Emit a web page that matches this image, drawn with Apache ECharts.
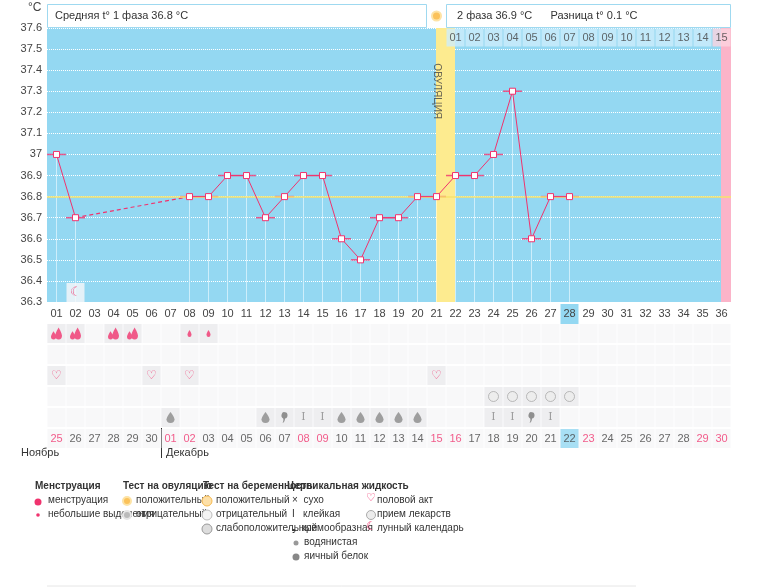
<!DOCTYPE html>
<html>
<head>
<meta charset="utf-8">
<script src="https://cdn.jsdelivr.net/npm/echarts@6/dist/echarts.min.js"></script>
<style>html,body{margin:0;padding:0;background:#fff}#c{width:769px;height:587px}</style>
</head>
<body>
<div id="c"></div>
<script>
// cycle days 01..36
const days = [];
for (let i = 1; i <= 36; i++) days.push(String(i).padStart(2, '0'));
// basal temperature, null = not measured
const temps = [37.0, 36.7, null, null, null, null, null, 36.8, 36.8, 36.9,
  36.9, 36.7, 36.8, 36.9, 36.9, 36.6, 36.5, 36.7, 36.7, 36.8,
  36.8, 36.9, 36.9, 37.0, 37.3, 36.6, 36.8, 36.8, null, null,
  null, null, null, null, null, null];
const calendarDates = ['25','26','27','28','29','30','01','02','03','04','05','06','07','08','09','10','11','12',
  '13','14','15','16','17','18','19','20','21','22','23','24','25','26','27','28','29','30'];
const redDates = [1, 7, 8, 14, 15, 21, 22, 28, 29, 35, 36];
const phase2Labels = ['01','02','03','04','05','06','07','08','09','10','11','12','13','14','15'];
const ovulationDay = 21;
const todayDay = 28;
const phase1Avg = 36.8;
const heavyDays = [1, 2, 4, 5];
const lightDays = [8, 9];
const sexDays = [1, 6, 8, 21];
const pillDays = [24, 25, 26, 27, 28];
const fluidDays = [7, 12, 13, 14, 15, 16, 17, 18, 19, 20, 24, 25, 26, 27];
const fluidTypes = ['egg','egg','cream','sticky','sticky','egg','egg','egg','egg','egg','sticky','sticky','cream','sticky'];
const moonDay = 2;
const rows = ['mens', 'empty', 'sex', 'pill', 'fluid', 'date'];

const FONT = 'Liberation Sans';
const PINK = '#f0336e';
const DROP = 'path://M5 0C5 0 0 7 0 10a5 5 0 0 0 10 0C10 7 5 0 5 0z';
const DROP2 = 'path://M9 0C9 0 5 6 5 9a4 4 0 0 0 8 0C13 6 9 0 9 0zM3 4C3 4 0 8 0 10a3 3 0 0 0 6 0C6 8 3 4 3 4z';
const COMMA = 'path://M4 0a4 4 0 1 1 0 8c0 3-2 5-4 6c1-2 2-4 1-6a4 4 0 0 1 3-8z';

const d = n => days[n - 1];

// dashed segment over the missing measurements
const gapLine = temps.map((t, i) => (i === 1 || i === 7) ? t : null);

const bgCells = [];
days.forEach(x => rows.forEach(r => bgCells.push([x, r])));
const usedCells = [];
heavyDays.concat(lightDays).forEach(n => usedCells.push([d(n), 'mens']));
sexDays.forEach(n => usedCells.push([d(n), 'sex']));
pillDays.forEach(n => usedCells.push([d(n), 'pill']));
fluidDays.forEach(n => usedCells.push([d(n), 'fluid']));

const chart = echarts.init(document.getElementById('c'));

const legendText = (x, y, t, bold) => ({
  type: 'text', x: x, y: y,
  style: { text: t, fill: '#333', font: (bold ? 'bold ' : '') + '10px ' + FONT }
});

chart.setOption({
  animation: false,
  textStyle: { fontFamily: FONT },
  grid: [
    { left: 47, right: 38, top: 28, height: 274, show: true, backgroundColor: '#94d8f2', borderWidth: 0 },
    { left: 47, right: 38, top: 323, height: 126 }
  ],
  xAxis: [
    {
      type: 'category', data: days, gridIndex: 0,
      axisLine: { show: false }, axisTick: { show: false },
      axisLabel: {
        color: '#444', fontSize: 11, margin: 2, interval: 0,
        formatter: v => v === d(todayDay) ? '{t|' + v + '}' : '{n|' + v + '}',
        rich: {
          n: { color: '#444', fontSize: 11, height: 20, lineHeight: 20 },
          t: { color: '#444', fontSize: 11, backgroundColor: '#94d8f2', width: 18, height: 20, lineHeight: 20, align: 'center' }
        }
      }
    },
    { type: 'category', data: days, gridIndex: 1, show: false }
  ],
  yAxis: [
    {
      type: 'value', min: 36.3, max: 37.6, interval: 0.1, gridIndex: 0,
      axisLine: { show: false }, axisTick: { show: false },
      axisLabel: { color: '#444', fontSize: 11, margin: 5, formatter: v => String(+v.toFixed(1)) },
      splitLine: { lineStyle: { color: '#ffffff', type: 'dotted', width: 1 } }
    },
    { type: 'category', data: rows, inverse: true, gridIndex: 1, show: false }
  ],
  series: [
    {
      type: 'bar', barWidth: '100%', silent: true, z: 1,
      data: days.map((x, i) => {
        if (i + 1 === ovulationDay) return { value: 37.6, itemStyle: { color: '#fdeb8f' } };
        if (i === 35) return { value: 37.6, itemStyle: { color: '#fbb4c9' } };
        return null;
      })
    },
    {
      type: 'bar', barGap: '-100%', barCategoryGap: '5%', z: 2,
      data: temps.map((t, i) => t === null ? null :
        { value: t, itemStyle: { color: i + 1 === ovulationDay ? '#fff6c4' : '#cdeefb' } }),
      markLine: {
        silent: true, symbol: 'none', label: { show: false },
        lineStyle: { color: '#f7e36b', type: 'solid', width: 1.5 },
        data: [{ yAxis: phase1Avg }]
      }
    },
    {
      type: 'scatter', symbol: 'rect', symbolSize: [19, 1.5], z: 3,
      itemStyle: { color: PINK },
      data: temps.map((t, i) => t === null ? null : [days[i], t])
    },
    {
      type: 'line', data: gapLine, connectNulls: true, showSymbol: false, z: 4,
      lineStyle: { color: PINK, width: 1.2, type: [4, 3] }
    },
    {
      type: 'line', data: temps, connectNulls: false, z: 5,
      symbol: 'rect', symbolSize: 6,
      lineStyle: { color: PINK, width: 1 },
      itemStyle: { color: '#fff', borderColor: PINK, borderWidth: 1 }
    },
    {
      type: 'scatter', symbol: 'rect', symbolSize: [18, 18], z: 6,
      data: phase2Labels.map((t, i) => ({
        value: [days[ovulationDay + i], 37.555],
        itemStyle: { color: i === 14 ? '#fdd5e0' : '#cdeefb' }
      })),
      label: { show: true, position: 'inside', color: '#444', fontSize: 11,
        formatter: p => phase2Labels[p.dataIndex] }
    },
    {
      type: 'scatter', symbolSize: 0, z: 6,
      data: [[d(ovulationDay), 37.3]],
      label: { show: true, position: 'inside', formatter: 'ОВУЛЯЦИЯ', rotate: -90, color: '#444', fontSize: 10 }
    },
    {
      type: 'scatter', symbol: 'rect', symbolSize: [18, 19], z: 6,
      itemStyle: { color: '#f7f7f9' },
      data: [[d(moonDay), 36.345]],
      label: { show: true, position: 'inside', formatter: '☾', color: PINK, fontSize: 13 }
    },
    // lower table
    { type: 'scatter', xAxisIndex: 1, yAxisIndex: 1, symbol: 'rect', symbolSize: [18, 19], silent: true,
      itemStyle: { color: '#f6f6f8' }, data: bgCells },
    { type: 'scatter', xAxisIndex: 1, yAxisIndex: 1, symbol: 'rect', symbolSize: [18, 19], silent: true,
      itemStyle: { color: '#ebebed' }, data: usedCells },
    { type: 'scatter', xAxisIndex: 1, yAxisIndex: 1, symbol: 'rect', symbolSize: [18, 19],
      itemStyle: { color: '#94d8f2' }, data: [[d(todayDay), 'date']] },
    { type: 'scatter', xAxisIndex: 1, yAxisIndex: 1, symbol: DROP2, symbolSize: [11, 12],
      itemStyle: { color: PINK }, data: heavyDays.map(n => [d(n), 'mens']) },
    { type: 'scatter', xAxisIndex: 1, yAxisIndex: 1, symbol: DROP, symbolSize: [4, 7],
      itemStyle: { color: PINK }, data: lightDays.map(n => [d(n), 'mens']) },
    { type: 'scatter', xAxisIndex: 1, yAxisIndex: 1, symbolSize: 0,
      data: sexDays.map(n => [d(n), 'sex']),
      label: { show: true, position: 'inside', formatter: '♡', color: PINK, fontSize: 12, fontFamily: 'DejaVu Sans' } },
    { type: 'scatter', xAxisIndex: 1, yAxisIndex: 1, symbol: 'circle', symbolSize: 10,
      itemStyle: { color: '#ececec', borderColor: '#aaa', borderWidth: 1 },
      data: pillDays.map(n => [d(n), 'pill']) },
    { type: 'scatter', xAxisIndex: 1, yAxisIndex: 1, symbol: DROP, symbolSize: [8, 11],
      itemStyle: { color: '#8a8a8a' },
      data: fluidDays.filter((n, i) => fluidTypes[i] === 'egg').map(n => [d(n), 'fluid']) },
    { type: 'scatter', xAxisIndex: 1, yAxisIndex: 1, symbol: COMMA, symbolSize: [6, 11],
      itemStyle: { color: '#777' },
      data: fluidDays.filter((n, i) => fluidTypes[i] === 'cream').map(n => [d(n), 'fluid']) },
    { type: 'scatter', xAxisIndex: 1, yAxisIndex: 1, symbolSize: 0,
      data: fluidDays.filter((n, i) => fluidTypes[i] === 'sticky').map(n => [d(n), 'fluid']),
      label: { show: true, position: 'inside', formatter: 'I', color: '#888', fontSize: 11, fontFamily: 'DejaVu Serif' } },
    { type: 'scatter', xAxisIndex: 1, yAxisIndex: 1, symbolSize: 0,
      data: calendarDates.map((t, i) => [days[i], 'date']),
      label: { show: true, position: 'inside',
        formatter: p => {
          const n = p.dataIndex + 1;
          return (redDates.includes(n) && n !== todayDay ? '{r|' : '{n|') + calendarDates[p.dataIndex] + '}';
        },
        rich: { r: { color: PINK, fontSize: 11 }, n: { color: '#444', fontSize: 11 } } } }
  ],
  graphic: [
    { type: 'text', x: 28, y: 2, style: { text: '°C', fill: '#444', font: '12px ' + FONT } },
    { type: 'rect', shape: { x: 47.5, y: 4.5, width: 379, height: 23 }, style: { fill: '#fff', stroke: '#9fd9f0' } },
    { type: 'rect', shape: { x: 446.5, y: 4.5, width: 284, height: 23 }, style: { fill: '#fff', stroke: '#9fd9f0' } },
    { type: 'text', x: 55, y: 10, style: { text: 'Средняя t° 1 фаза 36.8 °C', fill: '#333', font: '11px ' + FONT } },
    { type: 'text', x: 457, y: 10, style: { text: '2 фаза 36.9 °C      Разница t° 0.1 °C', fill: '#333', font: '11px ' + FONT } },
    { type: 'circle', shape: { cx: 436.5, cy: 16, r: 4.5 }, style: { fill: '#fbc25a', stroke: '#fde3a5', lineWidth: 2 } },
    { type: 'line', shape: { x1: 161.5, y1: 428, x2: 161.5, y2: 458 }, style: { stroke: '#333' } },
    { type: 'text', x: 21, y: 447, style: { text: 'Ноябрь', fill: '#333', font: '11px ' + FONT } },
    { type: 'text', x: 166, y: 447, style: { text: 'Декабрь', fill: '#333', font: '11px ' + FONT } },
    { type: 'line', shape: { x1: 47, y1: 586, x2: 636, y2: 586 }, style: { stroke: '#e6e6e6' } },
    legendText(35, 481, 'Менструация', true),
    legendText(48, 495, 'менструация'),
    legendText(48, 509, 'небольшие выделения'),
    { type: 'circle', shape: { cx: 38, cy: 502, r: 3.5 }, style: { fill: PINK } },
    { type: 'circle', shape: { cx: 38, cy: 515, r: 1.8 }, style: { fill: PINK } },
    legendText(123, 481, 'Тест на овуляцию', true),
    legendText(136, 495, 'положительный'),
    legendText(136, 509, 'отрицательный'),
    { type: 'circle', shape: { cx: 127, cy: 501, r: 4 }, style: { fill: '#fbc25a', stroke: '#fde3a5', lineWidth: 2 } },
    { type: 'circle', shape: { cx: 127, cy: 515, r: 4 }, style: { fill: '#bbb', stroke: '#e6e6e6', lineWidth: 2 } },
    legendText(203, 481, 'Тест на беременность', true),
    legendText(216, 495, 'положительный'),
    legendText(216, 509, 'отрицательный'),
    legendText(216, 523, 'слабоположительный'),
    { type: 'circle', shape: { cx: 207, cy: 501, r: 5 }, style: { fill: '#fde0a8', stroke: '#f5b84e' } },
    { type: 'circle', shape: { cx: 207, cy: 515, r: 5 }, style: { fill: '#f4f4f4', stroke: '#bbb' } },
    { type: 'circle', shape: { cx: 207, cy: 529, r: 5 }, style: { fill: '#ddd', stroke: '#999' } },
    legendText(287, 481, 'Цервикальная жидкость', true),
    legendText(292, 495, '×  сухо'),
    legendText(292, 509, 'I   клейкая'),
    legendText(292, 523, '❟  кремообразная'),
    legendText(304, 537, 'водянистая'),
    legendText(304, 551, 'яичный белок'),
    { type: 'circle', shape: { cx: 296, cy: 543, r: 2.5 }, style: { fill: '#999' } },
    { type: 'circle', shape: { cx: 296, cy: 557, r: 3.5 }, style: { fill: '#888' } },
    legendText(377, 495, 'половой акт'),
    legendText(377, 509, 'прием лекарств'),
    legendText(377, 523, 'лунный календарь'),
    { type: 'text', x: 366, y: 493, style: { text: '♡', fill: PINK, font: '11px DejaVu Sans' } },
    { type: 'circle', shape: { cx: 371, cy: 515, r: 4.5 }, style: { fill: '#ececec', stroke: '#aaa' } },
    { type: 'text', x: 366, y: 521, style: { text: '☾', fill: PINK, font: '12px DejaVu Sans' } }
  ]
});
</script>
</body>
</html>
